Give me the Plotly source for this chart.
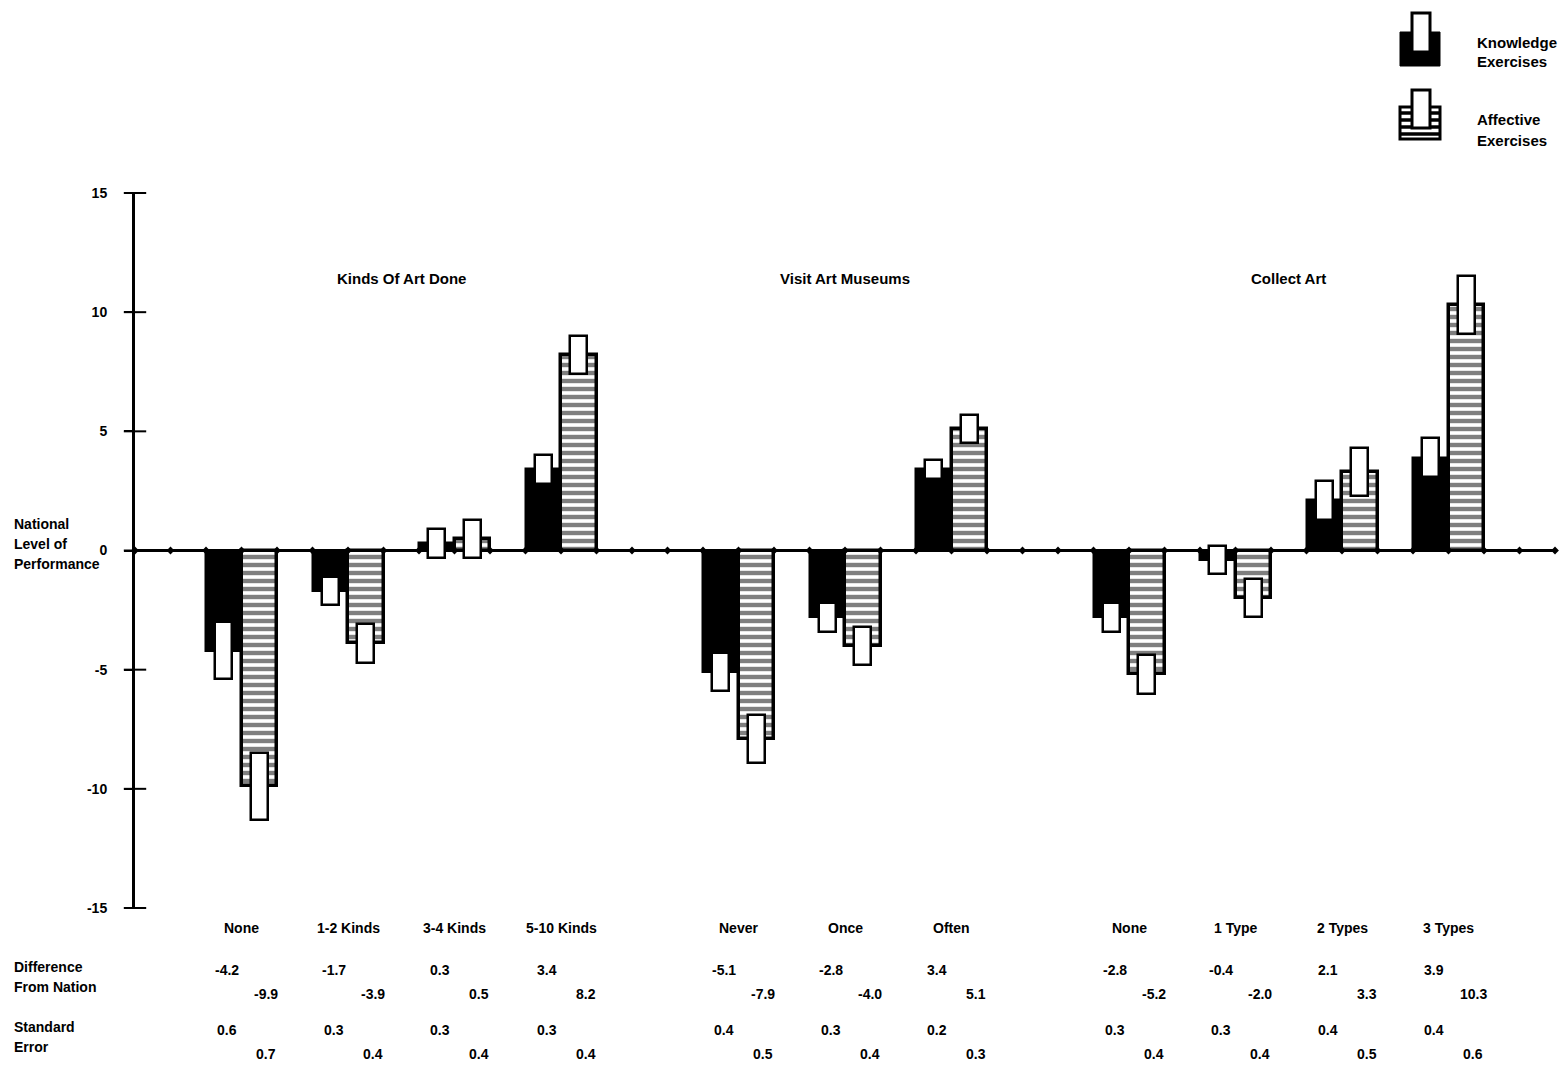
import plotly.graph_objects as go

# Performance differences from the national level, grouped by art activity
groups = ["Kinds Of Art Done", "Visit Art Museums", "Collect Art"]
categories = ["None", "1-2 Kinds", "3-4 Kinds", "5-10 Kinds",
              "Never", "Once", "Often",
              "None", "1 Type", "2 Types", "3 Types"]
group_of = [0, 0, 0, 0, 1, 1, 1, 2, 2, 2, 2]

knowledge_diff = [-4.2, -1.7, 0.3, 3.4, -5.1, -2.8, 3.4, -2.8, -0.4, 2.1, 3.9]
affective_diff = [-9.9, -3.9, 0.5, 8.2, -7.9, -4.0, 5.1, -5.2, -2.0, 3.3, 10.3]
knowledge_se = [0.6, 0.3, 0.3, 0.3, 0.4, 0.3, 0.2, 0.3, 0.3, 0.4, 0.4]
affective_se = [0.7, 0.4, 0.4, 0.4, 0.5, 0.4, 0.3, 0.4, 0.4, 0.5, 0.6]

y_tickvals = [15, 10, 5, 0, -5, -10, -15]
y_ticktext = ["15", "10", "5", "0", "-5", "-10", "-15"]

W, H = 1559, 1070
M_L, M_R, M_T, M_B = 135, 4, 193, 162
N_SLOTS = 40
FONT = "Liberation Sans"

# slot layout: each category = knowledge bar + affective bar + one empty slot,
# with two extra empty slots between groups
starts = []
s = 2
for i, g in enumerate(group_of):
    if i > 0 and g != group_of[i - 1]:
        s += 2
    starts.append(s)
    s += 3

k_x = [st + 0.5 for st in starts]
a_x = [st + 1.5 for st in starts]
centers = [st + 1 for st in starts]

fig = go.Figure()

fig.add_trace(go.Bar(
    x=k_x, y=knowledge_diff, width=1.0, name="Knowledge Exercises",
    marker=dict(color="black", line=dict(color="black", width=2.5)),
    showlegend=False, hoverinfo="skip",
))
fig.add_trace(go.Bar(
    x=a_x, y=affective_diff, width=1.0, name="Affective Exercises",
    marker=dict(color="white", line=dict(color="black", width=3.5),
                pattern=dict(shape="-", fgcolor="black", bgcolor="white",
                             size=8, solidity=0.55)),
    showlegend=False, hoverinfo="skip",
))

# +/- two standard errors drawn as open boxes centred on each bar tip
for xs, vals, ses in [(k_x, knowledge_diff, knowledge_se),
                      (a_x, affective_diff, affective_se)]:
    fig.add_trace(go.Bar(
        x=xs, y=[4 * e for e in ses], base=[v - 2 * e for v, e in zip(vals, ses)],
        width=0.47,
        marker=dict(color="white", line=dict(color="black", width=2.5)),
        showlegend=False, hoverinfo="skip",
    ))

# dots along the baseline at every slot boundary
fig.add_trace(go.Scatter(
    x=list(range(0, N_SLOTS + 1)), y=[0] * (N_SLOTS + 1), mode="markers",
    marker=dict(symbol="diamond", size=6, color="black"),
    cliponaxis=False, showlegend=False, hoverinfo="skip",
))
# tick marks crossing the value axis
fig.add_trace(go.Scatter(
    x=[0] * len(y_tickvals), y=y_tickvals, mode="markers",
    marker=dict(symbol="line-ew", size=16, line=dict(color="black", width=2)),
    cliponaxis=False, showlegend=False, hoverinfo="skip",
))

annotations = []
bold = dict(family=FONT, size=15, color="black", weight="bold")
cat_font = dict(family=FONT, size=14, color="black", weight="bold")
num_font = dict(family=FONT, size=14, color="black", weight="bold")
head_font = dict(family=FONT, size=14, color="black", weight="bold")

# group titles
for gi, name in enumerate(groups):
    idx = [i for i, g in enumerate(group_of) if g == gi]
    gx = (starts[idx[0]] + starts[idx[-1]] + 2) / 2
    annotations.append(dict(x=gx, y=11.4, xref="x", yref="y", text=name,
                            showarrow=False, font=bold))


def fmt(v):
    return f"{v:.1f}"


# category labels and value table beneath the plot
for i, cat in enumerate(categories):
    st = starts[i]
    annotations.append(dict(x=centers[i], y=0, xref="x", yref="paper", yanchor="middle",
                            yshift=-20, text=cat, showarrow=False, font=cat_font))
    rows = [(st + 0.6, knowledge_diff[i], -62), (st + 1.7, affective_diff[i], -86),
            (st + 0.6, knowledge_se[i], -122), (st + 1.7, affective_se[i], -146)]
    for xx, val, dy in rows:
        annotations.append(dict(x=xx, y=0, xref="x", yref="paper", yanchor="middle",
                                yshift=dy, text=fmt(val), showarrow=False,
                                font=num_font))

# row headers of the value table
for text, dy in [("Difference", -59), ("From Nation", -79),
                 ("Standard", -119), ("Error", -139)]:
    annotations.append(dict(x=0, y=0, xref="paper", yref="paper", xanchor="left",
                            yanchor="middle", xshift=-123, yshift=dy, text=text,
                            showarrow=False, font=head_font))

# value-axis title
for text, yy in [("National", 524), ("Level of", 544), ("Performance", 564)]:
    annotations.append(dict(x=0, y=1, xref="paper", yref="paper", xanchor="left",
                            yanchor="middle", xshift=-123, yshift=-(yy - M_T), text=text,
                            showarrow=False, font=head_font))

# legend drawn at the top right
PW = W - M_L - M_R
PH = H - M_T - M_B


def px(x):
    return (x - M_L) / PW


def py(y):
    return (H - M_B - y) / PH


shapes = []
# knowledge icon
shapes.append(dict(type="rect", xref="paper", yref="paper", x0=px(1400), x1=px(1440),
                   y0=py(66), y1=py(32), fillcolor="black", line=dict(color="black", width=1)))
shapes.append(dict(type="rect", xref="paper", yref="paper", x0=px(1412), x1=px(1430),
                   y0=py(52), y1=py(13), fillcolor="white", line=dict(color="black", width=3)))
# affective icon
shapes.append(dict(type="rect", xref="paper", yref="paper", x0=px(1400), x1=px(1440),
                   y0=py(139), y1=py(107), fillcolor="white", line=dict(color="black", width=3)))
for yy in [113, 120, 127, 134]:
    shapes.append(dict(type="line", xref="paper", yref="paper", x0=px(1400), x1=px(1440),
                       y0=py(yy), y1=py(yy), line=dict(color="black", width=3.5)))
shapes.append(dict(type="rect", xref="paper", yref="paper", x0=px(1412), x1=px(1430),
                   y0=py(128), y1=py(90), fillcolor="white", line=dict(color="black", width=3)))

legend_font = dict(family=FONT, size=15, color="black", weight="bold")
for text, yy in [("Knowledge", 42), ("Exercises", 62), ("Affective", 119), ("Exercises", 140)]:
    annotations.append(dict(x=px(1475), y=py(yy), xref="paper", yref="paper",
                            xanchor="left", yanchor="middle", text=text,
                            showarrow=False, font=legend_font))

fig.update_layout(
    width=W, height=H, autosize=False,
    margin=dict(l=M_L, r=M_R, t=M_T, b=M_B, pad=0),
    paper_bgcolor="white", plot_bgcolor="white",
    barmode="overlay", bargap=0,
    showlegend=False,
    annotations=annotations,
    shapes=shapes,
    xaxis=dict(range=[0, N_SLOTS], visible=False, showgrid=False, zeroline=False,
               fixedrange=True),
    yaxis=dict(range=[-15, 15], tickvals=y_tickvals, ticktext=y_ticktext,
               showgrid=False, showline=True, linecolor="black", linewidth=3,
               ticks="outside", ticklen=8, tickwidth=2, tickcolor="black",
               ticklabelstandoff=14,
               tickfont=dict(family=FONT, size=14, color="black", weight="bold"),
               zeroline=True, zerolinecolor="black", zerolinewidth=2.5,
               fixedrange=True),
)

fig.write_html("out.html")
